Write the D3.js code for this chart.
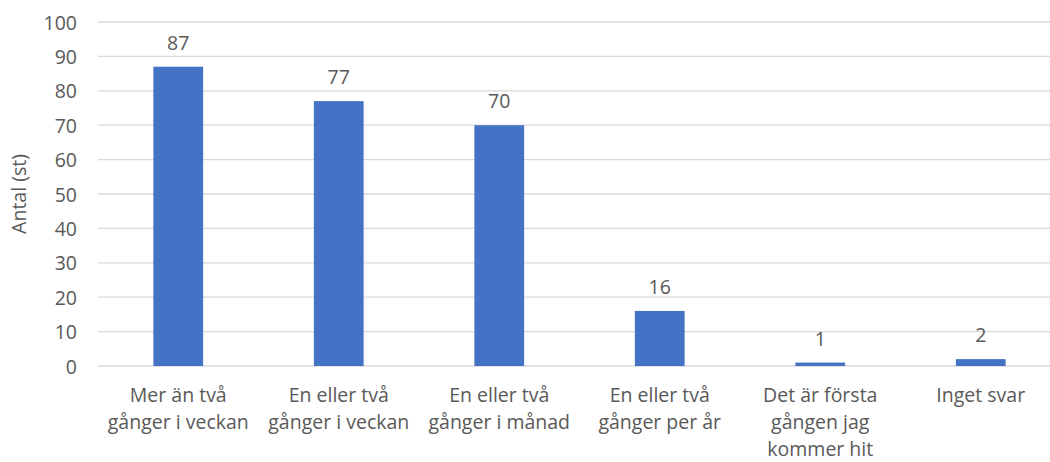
<!DOCTYPE html>
<meta charset="utf-8">
<style>
body { margin: 0; background: #fff; }
text { font-family: "Open Sans", sans-serif; fill: #595959; }
.grid line { stroke: #d9d9d9; stroke-width: 1.3; }
.bar { fill: #4472C4; }
</style>
<body>
<script src="https://d3js.org/d3.v7.min.js"></script>
<script>

// data
var categories = [
  "Mer än två\ngånger i veckan",
  "En eller två\ngånger i veckan",
  "En eller två\ngånger i månad",
  "En eller två\ngånger per år",
  "Det är första\ngången jag\nkommer hit",
  "Inget svar"
];
var counts = [87, 77, 70, 16, 1, 2];
var yTicks = [0, 10, 20, 30, 40, 50, 60, 70, 80, 90, 100];
var yTitle = "Antal (st)";

var W = 1050, H = 462;
var plotLeft = 98, plotRight = 1061, plotTop = 22, plotBottom = 366;
var fs = "19.5px";

var svg = d3.select("body").append("svg")
    .attr("width", W)
    .attr("height", H);

var x = d3.scaleBand()
    .domain(categories)
    .range([plotLeft, plotRight])
    .paddingInner(0.69)
    .paddingOuter(0.345);

var y = d3.scaleLinear().domain([0, 100]).range([plotBottom, plotTop]);

// gridlines
svg.append("g").attr("class", "grid")
  .selectAll("line")
  .data(yTicks)
  .enter().append("line")
    .attr("x1", plotLeft)
    .attr("x2", W)
    .attr("y1", function(d) { return y(d); })
    .attr("y2", function(d) { return y(d); });

// y tick labels
var yAxis = svg.append("g")
    .attr("transform", "translate(" + (plotLeft - 21) + ",0)")
    .call(d3.axisLeft(y).tickValues(yTicks).tickSize(0).tickPadding(0));
yAxis.select(".domain").remove();
yAxis.selectAll("text")
    .attr("font-family", null)
    .attr("font-size", null)
    .style("font-size", fs)
    .attr("fill", "#595959")
    .attr("dy", "0.36em");

// y title
svg.append("text")
    .attr("transform", "translate(26," + ((plotTop + plotBottom) / 2) + ") rotate(-90)")
    .attr("text-anchor", "middle")
    .style("font-size", fs)
    .text(yTitle);

// bars
svg.selectAll(".bar")
    .data(counts)
  .enter().append("rect")
    .attr("class", "bar")
    .attr("x", function(d, i) { return x(categories[i]); })
    .attr("width", x.bandwidth())
    .attr("y", function(d) { return y(d); })
    .attr("height", function(d) { return y(0) - y(d); });

// value labels
svg.selectAll(".val")
    .data(counts)
  .enter().append("text")
    .attr("class", "val")
    .attr("x", function(d, i) { return x(categories[i]) + x.bandwidth() / 2; })
    .attr("y", function(d) { return y(d) - 17; })
    .attr("text-anchor", "middle")
    .style("font-size", fs)
    .text(function(d) { return d; });

// category labels
var cat = svg.selectAll(".cat")
    .data(categories)
  .enter().append("text")
    .attr("class", "cat")
    .attr("text-anchor", "middle")
    .style("font-size", fs)
    .attr("transform", function(d) {
      return "translate(" + (x(d) + x.bandwidth() / 2) + ",402)";
    });
cat.selectAll("tspan")
    .data(function(d) { return d.split("\n"); })
  .enter().append("tspan")
    .attr("x", 0)
    .attr("y", function(d, i) { return i * 27; })
    .text(function(d) { return d; });

</script>
</body>
